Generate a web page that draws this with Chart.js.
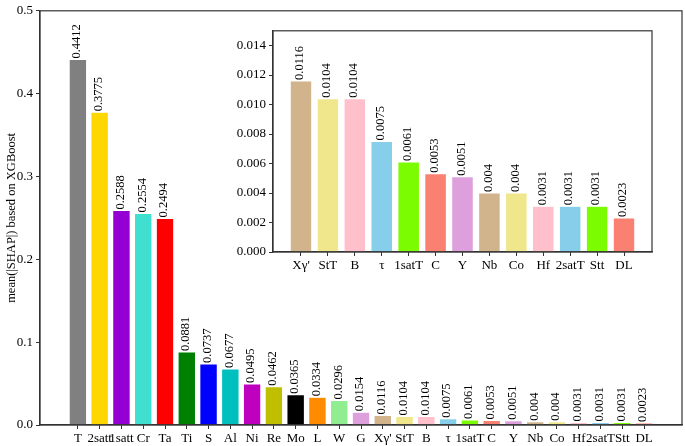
<!DOCTYPE html>
<html>
<head>
<meta charset="utf-8">
<script src="https://cdn.jsdelivr.net/npm/chart.js@4/dist/chart.umd.min.js"></script>
<style>
  body { margin: 0; background: #fff; }
  #wrap { position: relative; width: 685px; height: 446px; }
  #main { position: absolute; left: 0; top: 0; }
  #inset { position: absolute; left: 225px; top: 20px; }
</style>
</head>
<body>
<div id="wrap">
  <canvas id="main" width="685" height="446"></canvas>
  <canvas id="inset" width="460" height="260"></canvas>
</div>
<script>
var features = ["T", "2satt", "1satt", "Cr", "Ta", "Ti", "S", "Al", "Ni", "Re", "Mo", "L", "W", "G",
  "X\u03b3'", "StT", "B", "\u03c4", "1satT", "C", "Y", "Nb", "Co", "Hf", "2satT", "Stt", "DL"];
var shapValues = [0.4412, 0.3775, 0.2588, 0.2554, 0.2494, 0.0881, 0.0737, 0.0677, 0.0495, 0.0462, 0.0365, 0.0334, 0.0296, 0.0154,
  0.0116, 0.0104, 0.0104, 0.0075, 0.0061, 0.0053, 0.0051, 0.004, 0.004, 0.0031, 0.0031, 0.0031, 0.0023];
var barColors = ["#808080", "#FFD700", "#9400D3", "#40E0D0", "#FF0000", "#008000", "#0000FF", "#00BFBF", "#BF00BF", "#BFBF00",
  "#000000", "#FF8C00", "#90EE90", "#DDA0DD", "#D2B48C", "#F0E68C", "#FFC0CB", "#87CEEB", "#7CFC00", "#FA8072", "#DDA0DD",
  "#D2B48C", "#F0E68C", "#FFC0CB", "#87CEEB", "#7CFC00", "#FA8072"];
var mainYTicks = [0, 0.1, 0.2, 0.3, 0.4, 0.5];
var insetYTicks = [0, 0.002, 0.004, 0.006, 0.008, 0.010, 0.012, 0.014];
var insetStart = 14;

var insetNames = features.slice(insetStart);
var insetValues = shapValues.slice(insetStart);
var insetColors = barColors.slice(insetStart);

var serif = "'Liberation Serif', 'Times New Roman', serif";
var axisColor = "#333";

// value labels rotated above bars + box frame
var barLabels = {
  id: "barLabels",
  afterDatasetsDraw: function (chart) {
    var ctx = chart.ctx;
    var meta = chart.getDatasetMeta(0);
    var vals = chart.data.datasets[0].data;
    ctx.save();
    ctx.fillStyle = "#000";
    ctx.font = "12.5px " + serif;
    ctx.textAlign = "left";
    ctx.textBaseline = "middle";
    meta.data.forEach(function (bar, i) {
      ctx.save();
      ctx.translate(bar.x - 1, bar.y - 1);
      ctx.rotate(-Math.PI / 2);
      ctx.fillText(String(vals[i].y), 0, 0);
      ctx.restore();
    });
    ctx.restore();
  },
  afterDraw: function (chart) {
    var a = chart.chartArea;
    var ctx = chart.ctx;
    ctx.save();
    ctx.strokeStyle = axisColor;
    ctx.lineWidth = 1.2;
    ctx.strokeRect(a.left, a.top, a.right - a.left, a.bottom - a.top);
    if (chart.canvas.id === "main") {
      ctx.fillStyle = "#000";
      ctx.font = "12.5px " + serif;
      ctx.textAlign = "center";
      ctx.textBaseline = "middle";
      ctx.translate(12, (a.top + a.bottom) / 2);
      ctx.rotate(-Math.PI / 2);
      ctx.fillText("mean(|SHAP|) based on XGBoost", 0, 0);
    }
    ctx.restore();
  }
};

function makeChart(id, names, values, colors, yMax, yTicks, yDigits, xMin, xMax, yWidth, xHeight, pad) {
  return new Chart(document.getElementById(id), {
    type: "bar",
    data: {
      datasets: [{
        data: values.map(function (v, i) { return { x: i, y: v }; }),
        backgroundColor: colors,
        borderColor: "rgba(255,255,255,0.6)",
        borderWidth: 0.5,
        barPercentage: 0.8,
        categoryPercentage: 1.0
      }]
    },
    options: {
      responsive: false,
      animation: false,
      layout: { padding: pad },
      plugins: { legend: { display: false }, tooltip: { enabled: false } },
      scales: {
        x: {
          type: "linear",
          offset: false,
          min: xMin,
          max: xMax,
          afterBuildTicks: function (s) { s.ticks = names.map(function (n, i) { return { value: i }; }); },
          afterFit: function (s) { s.height = xHeight; },
          grid: { display: true, offset: false, drawOnChartArea: false, tickLength: 4, color: axisColor, tickColor: axisColor },
          border: { display: true, color: axisColor, width: 1.2 },
          ticks: {
            autoSkip: false, maxRotation: 0, padding: 2, color: "#000",
            font: { family: serif, size: 13 },
            callback: function (v) { return names[v]; }
          }
        },
        y: {
          min: 0,
          max: yMax,
          afterBuildTicks: function (s) { s.ticks = yTicks.map(function (v) { return { value: v }; }); },
          afterFit: function (s) { s.width = yWidth; },
          grid: { display: true, drawOnChartArea: false, tickLength: 4, color: axisColor, tickColor: axisColor },
          border: { display: true, color: axisColor, width: 1.2 },
          ticks: {
            padding: 3, color: "#000",
            font: { family: serif, size: 13 },
            callback: function (v) { return v.toFixed(yDigits); }
          }
        }
      }
    },
    plugins: [barLabels]
  });
}

makeChart("main", features, shapValues, barColors, 0.5, mainYTicks, 1, -1.74, 27.74, 40, 21,
  { left: 0, right: 3, top: 4, bottom: 0 });
makeChart("inset", insetNames, insetValues, insetColors, 0.015, insetYTicks, 3, -1.04, 13.04, 48, 28,
  { left: 0, right: 33, top: 5, bottom: 0 });
</script>
</body>
</html>
